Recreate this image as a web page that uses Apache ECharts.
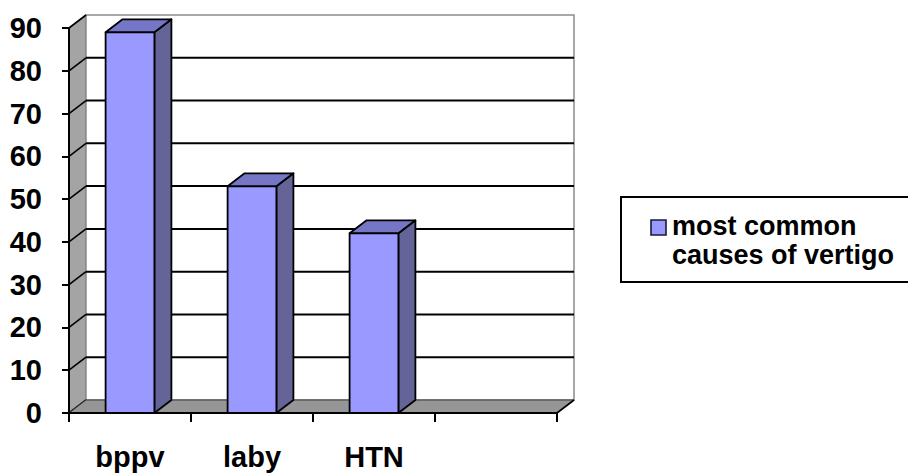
<!DOCTYPE html>
<html>
<head>
<meta charset="utf-8">
<script src="https://cdn.jsdelivr.net/npm/echarts@6/dist/echarts.min.js"></script>
<style>
  html, body { margin: 0; padding: 0; background: #fff; overflow: hidden; }
  #chart { width: 908px; height: 473px; }
</style>
</head>
<body>
<div id="chart"></div>
<script>
// ---- data ----
const categories = ['bppv', 'laby', 'HTN', ''];
const seriesName = 'most common causes of vertigo';
const values = [89, 53, 42, null];
const yTicks = [0, 10, 20, 30, 40, 50, 60, 70, 80, 90];

// ---- 3D look ----
const DX = 17, DY = 13;           // depth offset of the back wall
const FONT = '"Liberation Sans", Arial, sans-serif';

const chart = echarts.init(document.getElementById('chart'), null, { renderer: 'svg' });

function renderFrame(params, api) {
  const cs = params.coordSys;
  const x0 = cs.x, x1 = cs.x + cs.width;
  const yBot = api.coord([0, yTicks[0]])[1];
  const yTop = api.coord([0, yTicks[yTicks.length - 1]])[1];
  const children = [];
  // left side wall
  children.push({
    type: 'polygon',
    shape: { points: [[x0, yTop], [x0 + DX, yTop - DY], [x0 + DX, yBot - DY], [x0, yBot]] },
    style: { fill: '#a4a4a4', stroke: '#6e6e6e', lineWidth: 1 }
  });
  // back wall
  children.push({
    type: 'rect',
    shape: { x: x0 + DX, y: yTop - DY, width: x1 - x0, height: yBot - yTop },
    style: { fill: '#ffffff', stroke: '#8c8c8c', lineWidth: 1.5 }
  });
  // gridlines: back wall + side wall diagonals
  yTicks.forEach(function (v, i) {
    const y = api.coord([0, v])[1];
    if (i > 0 && i < yTicks.length - 1) {
      children.push({
        type: 'line',
        shape: { x1: x0 + DX, y1: y - DY, x2: x1 + DX, y2: y - DY },
        style: { stroke: '#000', lineWidth: 2 }
      });
    }
    children.push({
      type: 'line',
      shape: { x1: x0, y1: y, x2: x0 + DX, y2: y - DY },
      style: { stroke: '#000', lineWidth: 1.6 }
    });
  });
  // floor
  children.push({
    type: 'polygon',
    shape: { points: [[x0, yBot], [x1, yBot], [x1 + DX, yBot - DY], [x0 + DX, yBot - DY]] },
    style: { fill: '#969696', stroke: '#3c3c3c', lineWidth: 1 }
  });
  children.push({
    type: 'line',
    shape: { x1: x1, y1: yBot, x2: x1 + DX, y2: yBot - DY },
    style: { stroke: '#000', lineWidth: 1.6 }
  });
  return { type: 'group', children: children };
}

function renderBar(params, api) {
  const idx = api.value(0);
  const val = api.value(1);
  if (val == null || isNaN(val)) return null;
  const bottom = api.coord([idx, 0]);
  const top = api.coord([idx, val]);
  const bw = api.size([1, 0])[0] * 0.4;
  const xl = bottom[0] - bw / 2, xr = bottom[0] + bw / 2;
  const yt = top[1], yb = bottom[1];
  const edge = { stroke: '#000', lineWidth: 1.8, lineJoin: 'round' };
  return {
    type: 'group',
    children: [
      {
        type: 'polygon',
        shape: { points: [[xr, yt], [xr + DX, yt - DY], [xr + DX, yb - DY], [xr, yb]] },
        style: Object.assign({ fill: '#646499' }, edge)
      },
      {
        type: 'polygon',
        shape: { points: [[xl, yt], [xl + DX, yt - DY], [xr + DX, yt - DY], [xr, yt]] },
        style: Object.assign({ fill: '#7676c6' }, edge)
      },
      {
        type: 'rect',
        shape: { x: xl, y: yt, width: bw, height: yb - yt },
        style: Object.assign({ fill: '#9999ff' }, edge)
      }
    ]
  };
}

const option = {
  animation: false,
  backgroundColor: '#ffffff',
  grid: { left: 69, right: 351, top: 28, bottom: 60, containLabel: false },
  xAxis: {
    type: 'category',
    data: categories,
    boundaryGap: true,
    z: 5,
    axisLine: { show: true, lineStyle: { color: '#000', width: 2 } },
    axisTick: { show: true, alignWithLabel: false, interval: 0, length: 9, lineStyle: { color: '#000', width: 2 } },
    axisLabel: { interval: 0, margin: 29, color: '#000', fontWeight: 'bold', fontSize: 29, fontFamily: FONT },
    splitLine: { show: false }
  },
  yAxis: {
    type: 'value',
    min: 0, max: 90, interval: 10,
    z: 5,
    axisLine: { show: true, lineStyle: { color: '#000', width: 2 } },
    axisTick: { show: true, length: 7, lineStyle: { color: '#000', width: 2 } },
    axisLabel: { margin: 27, color: '#000', fontWeight: 'bold', fontSize: 29, fontFamily: FONT },
    splitLine: { show: false }
  },
  series: [
    {
      type: 'custom',
      name: 'frame',
      z: 1,
      silent: true,
      coordinateSystem: 'cartesian2d',
      renderItem: renderFrame,
      data: [[0, 0]]
    },
    {
      type: 'custom',
      name: seriesName,
      z: 3,
      coordinateSystem: 'cartesian2d',
      renderItem: renderBar,
      encode: { x: 0, y: 1 },
      data: values.map(function (v, i) { return [i, v]; })
    }
  ],
  graphic: [
    {
      type: 'rect',
      shape: { x: 621, y: 197, width: 300, height: 85 },
      style: { fill: '#ffffff', stroke: '#000', lineWidth: 2 }
    },
    {
      type: 'rect',
      shape: { x: 651, y: 220, width: 15, height: 15 },
      style: { fill: '#9999ff', stroke: '#1a1a33', lineWidth: 1.6 }
    },
    {
      type: 'text',
      x: 672, y: 211,
      style: {
        text: 'most common\ncauses of vertigo',
        font: 'bold 27px ' + FONT,
        lineHeight: 29.4,
        fill: '#000',
        verticalAlign: 'top',
        align: 'left'
      }
    }
  ]
};

chart.setOption(option);
</script>
</body>
</html>
